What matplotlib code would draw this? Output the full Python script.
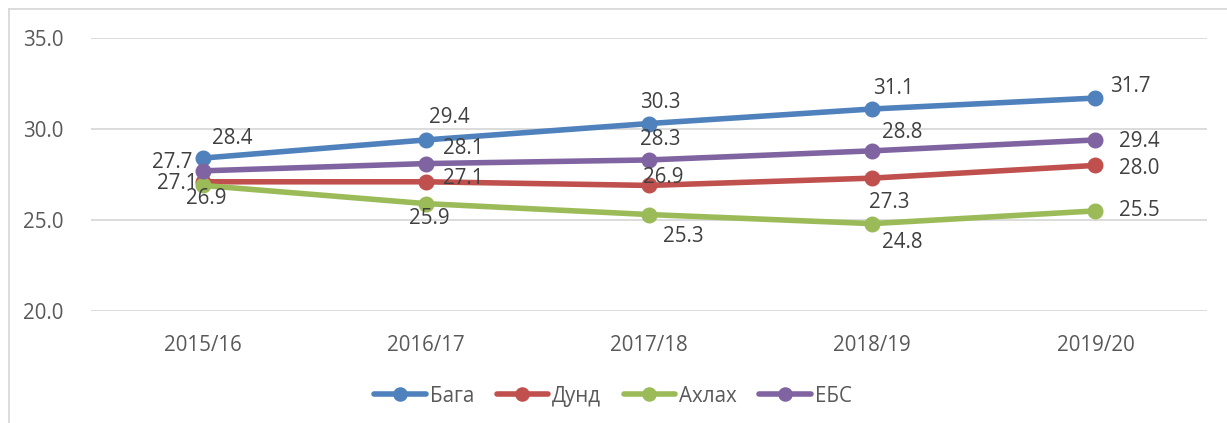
import matplotlib
matplotlib.use('Agg')
import matplotlib.pyplot as plt
from matplotlib.lines import Line2D

plt.rcParams['font.family'] = ['Open Sans', 'DejaVu Sans']

# Data
years = ['2015/16', '2016/17', '2017/18', '2018/19', '2019/20']
baga = [28.4, 29.4, 30.3, 31.1, 31.7]
dund = [27.1, 27.1, 26.9, 27.3, 28.0]
akhlakh = [26.9, 25.9, 25.3, 24.8, 25.5]
ebs = [27.7, 28.1, 28.3, 28.8, 29.4]
series_names = ['Бага', 'Дунд', 'Ахлах', 'ЕБС']

# Styles
colors = ['#4F81BD', '#C0504D', '#9BBB59', '#8064A2']
# label offsets (pixels) for each point, per series
label_offsets = [
    [(30, 20), (24, 22), (11, 21), (21, 20), (35, 12)],
    [(-25, -2), (37, 3), (14, 8), (17, -24), (44, -3)],
    [(4, -13), (4, -15), (34, -22), (30, -19), (44, 0)],
    [(-30, 8), (37, 15), (11, 20), (30, 18), (44, -2)],
]
text_color = '#404040'
fs = 14.8

fig = plt.figure(figsize=(12.27, 4.23), dpi=100)
ax = fig.add_axes([91 / 1227, 1 - 311 / 423, 1116 / 1227, (311 - 38) / 423])

x = list(range(len(years)))
all_series = [baga, dund, akhlakh, ebs]
for vals, name, col, offs in zip(all_series, series_names, colors, label_offsets):
    ax.plot(x, vals, color=col, lw=4.0, marker='o', markersize=10.5,
            label=name, solid_capstyle='round', zorder=3)
    for xi, v, (dx, dy) in zip(x, vals, offs):
        ax.annotate(f'{v:.1f}', (xi, v), xytext=(dx, dy), textcoords='offset pixels',
                    ha='center', va='center', fontsize=fs, color=text_color, zorder=4)

ax.set_xlim(-0.5, len(years) - 0.5)
ax.set_ylim(20, 35)
ax.set_yticks([20, 25, 30, 35])
ax.set_yticklabels([f'{t:.1f}' for t in [20, 25, 30, 35]])
ax.set_xticks(x)
ax.set_xticklabels(years)
ax.grid(axis='y', color='#d9d9d9', lw=1.3)
ax.set_axisbelow(True)
for s in ax.spines.values():
    s.set_visible(False)
ax.tick_params(axis='both', length=0, labelsize=fs, labelcolor='#595959')
ax.tick_params(axis='y', pad=20)
ax.tick_params(axis='x', pad=17)

leg = fig.legend(loc='center', bbox_to_anchor=(613 / 1227, 1 - 396 / 423), ncol=4,
                 frameon=False, fontsize=fs, handlelength=2.5, handletextpad=0.2,
                 columnspacing=1.1, markerscale=0.9)
for t in leg.get_texts():
    t.set_color('#595959')

# chart area border
fig.add_artist(Line2D([9 / 1227, 9 / 1227], [0, 1 - 9 / 423], transform=fig.transFigure,
                      color='#d9d9d9', lw=1.3))
fig.add_artist(Line2D([9 / 1227, 1], [1 - 9 / 423, 1 - 9 / 423], transform=fig.transFigure,
                      color='#d9d9d9', lw=1.3))

fig.savefig('out.png', dpi=100)
